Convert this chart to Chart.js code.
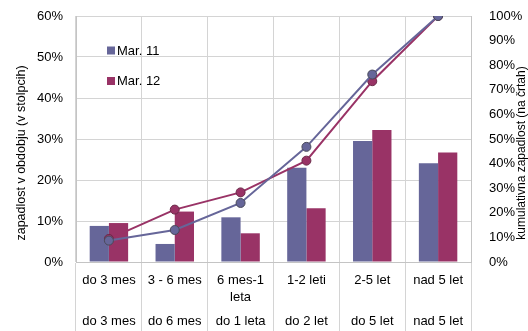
<!DOCTYPE html>
<html>
<head>
<meta charset="utf-8">
<script src="https://cdn.jsdelivr.net/npm/chart.js@4/dist/chart.umd.min.js"></script>
<style>
  html, body { margin: 0; padding: 0; background: #fff; }
  #wrap { width: 528px; height: 331px; position: relative; }
</style>
</head>
<body>
<div id="wrap"><canvas id="c" width="528" height="331"></canvas></div>
<script>
// Category labels: upper row (period) and lower row (cumulative bucket)
const periodLabels = ['do 3 mes', '3 - 6 mes', ['6 mes-1', 'leta'], '1-2 leti', '2-5 let', 'nad 5 let'];
const cumulativeLabels = ['do 3 mes', 'do 6 mes', 'do 1 leta', 'do 2 let', 'do 5 let', 'nad 5 let'];

// Share of overdue claims in each period (%), left axis
const periodMar11 = [8.8, 4.4, 10.9, 23.0, 29.5, 24.1];
const periodMar12 = [9.5, 12.3, 7.0, 13.1, 32.2, 26.7];

// Cumulative share of overdue claims (%), right axis
const cumulMar11 = [8.7, 13.0, 24.0, 46.8, 76.2, 100];
const cumulMar12 = [9.4, 21.3, 28.3, 41.2, 73.5, 100];

const seriesNames = ['Mar. 11', 'Mar. 12'];
const leftTicks = [0, 10, 20, 30, 40, 50, 60];
const rightTicks = [0, 10, 20, 30, 40, 50, 60, 70, 80, 90, 100];

const leftTitle = 'zapadlost v obdobju (v stolpcih)';
const rightTitle = 'kumulativna zapadlost (na črtah)';

const BLUE = '#666699';
const RED = '#993366';
const GRID = '#d4d4d4';
const FRAME = '#c4c4c4';
const FONT = "'Liberation Sans', Arial, sans-serif";

// Legend and rotated axis titles drawn on top of the chart
const decorations = {
  id: 'decorations',
  afterDraw(chart) {
    const ctx = chart.ctx;
    const area = chart.chartArea;
    ctx.save();
    ctx.font = '13px ' + FONT;
    ctx.textBaseline = 'middle';
    ctx.textAlign = 'left';
    const colors = [BLUE, RED];
    const rows = [50.5, 81];
    seriesNames.forEach((name, i) => {
      ctx.fillStyle = colors[i];
      ctx.fillRect(area.left + 31, rows[i] - 4, 8, 8);
      ctx.fillStyle = '#000';
      ctx.fillText(name, area.left + 41, rows[i] + 0.5);
    });
    ctx.font = '12.5px ' + FONT;
    ctx.textAlign = 'center';
    const midY = 153;
    ctx.translate(22, midY);
    ctx.rotate(-Math.PI / 2);
    ctx.fillText(leftTitle, 0, 0);
    ctx.restore();
    ctx.save();
    ctx.font = '12px ' + FONT;
    ctx.textAlign = 'center';
    ctx.textBaseline = 'middle';
    ctx.fillStyle = '#000';
    ctx.translate(522, midY);
    ctx.rotate(-Math.PI / 2);
    ctx.fillText(rightTitle, 0, 0);
    ctx.restore();
  }
};

const pct = v => v + '%';

// Keep the plot edges fixed: vertical axes get a set width and no extra top/bottom padding
const fitVertical = width => s => {
  s.width = width;
  s.paddingTop = 0;
  s.paddingBottom = 0;
};

new Chart(document.getElementById('c'), {
  data: {
    labels: periodLabels,
    datasets: [
      {
        type: 'line', label: seriesNames[0] + ' kumulativno', data: cumulMar11, yAxisID: 'y2',
        borderColor: BLUE, borderWidth: 2, backgroundColor: BLUE,
        pointRadius: 4.5, pointBackgroundColor: BLUE, pointBorderColor: '#4a4a5a', pointBorderWidth: 1,
        tension: 0, order: 0
      },
      {
        type: 'line', label: seriesNames[1] + ' kumulativno', data: cumulMar12, yAxisID: 'y2',
        borderColor: RED, borderWidth: 2, backgroundColor: RED,
        pointRadius: 4.5, pointBackgroundColor: RED, pointBorderColor: '#6a2a48', pointBorderWidth: 1,
        tension: 0, order: 1
      },
      {
        type: 'bar', label: seriesNames[0], data: periodMar11, yAxisID: 'y',
        backgroundColor: BLUE, borderWidth: 0, order: 2,
        categoryPercentage: 0.584, barPercentage: 1.0
      },
      {
        type: 'bar', label: seriesNames[1], data: periodMar12, yAxisID: 'y',
        backgroundColor: RED, borderWidth: 0, order: 3,
        categoryPercentage: 0.584, barPercentage: 1.0
      }
    ]
  },
  options: {
    responsive: false,
    animation: false,
    layout: { padding: { top: 16, left: 0, right: 0, bottom: 0 } },
    plugins: {
      legend: { display: false },
      tooltip: { enabled: false },
      title: { display: false }
    },
    scales: {
      x: {
        type: 'category',
        position: 'bottom',
        weight: 0,
        offset: true,
        grid: {
          offset: true,
          color: GRID,
          lineWidth: 1,
          borderDash: c => (c.type !== 'tick' || c.index === 0) ? [] : [2, 2],
          tickLength: 69,
          tickColor: GRID,
          tickBorderDash: []
        },
        border: { display: true, color: FRAME },
        ticks: {
          padding: -59,
          color: '#000',
          font: { family: FONT, size: 13, lineHeight: 1.28 },
          maxRotation: 0,
          autoSkip: false
        },
        afterFit: s => { s.height = 43; }
      },
      x2: {
        type: 'category',
        labels: cumulativeLabels,
        position: 'bottom',
        weight: 1,
        offset: true,
        grid: { display: false, drawTicks: false },
        border: { display: false },
        ticks: {
          padding: 8.5,
          color: '#000',
          font: { family: FONT, size: 13, lineHeight: 1.28 },
          maxRotation: 0,
          autoSkip: false
        },
        afterFit: s => { s.height = 26; }
      },
      y: {
        position: 'left',
        min: 0, max: 60,
        afterBuildTicks: s => { s.ticks = leftTicks.map(v => ({ value: v })); },
        grid: {
          color: GRID,
          borderDash: c => (c.tick && c.tick.value === 60) ? [] : [2, 2],
          drawTicks: false
        },
        border: { display: true, color: FRAME },
        ticks: {
          padding: 13,
          color: '#000',
          font: { family: FONT, size: 13 },
          callback: pct
        },
        afterFit: fitVertical(76)
      },
      y2: {
        position: 'right',
        min: 0, max: 100,
        afterBuildTicks: s => { s.ticks = rightTicks.map(v => ({ value: v })); },
        grid: { drawOnChartArea: false, drawTicks: false },
        border: { display: true, color: FRAME },
        ticks: {
          padding: 18,
          color: '#000',
          font: { family: FONT, size: 13 },
          callback: pct
        },
        afterFit: fitVertical(57)
      }
    }
  },
  plugins: [decorations]
});
</script>
</body>
</html>
